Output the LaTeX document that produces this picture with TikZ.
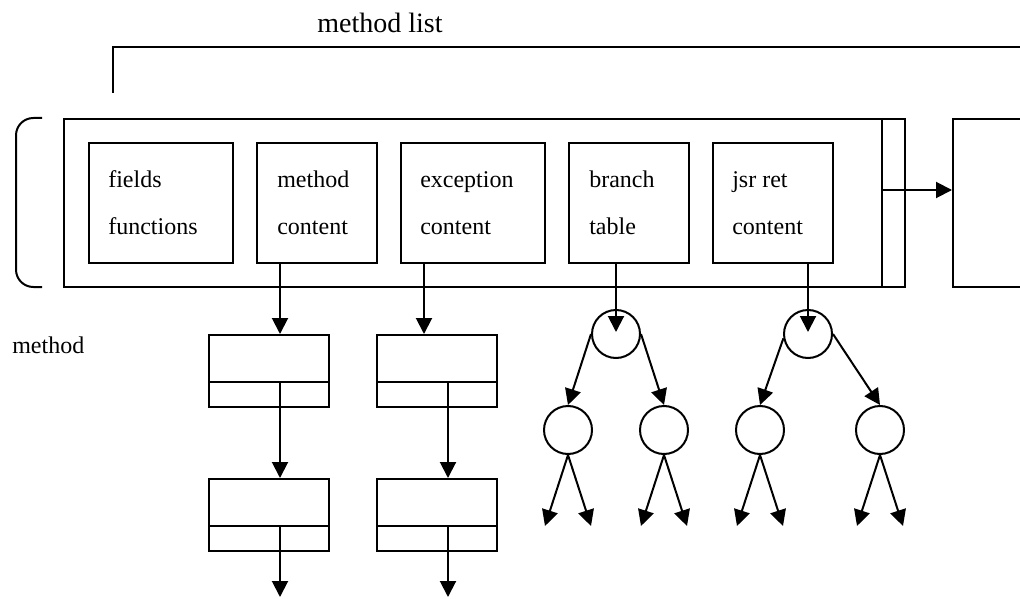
\documentclass[tikz,border=0pt]{standalone}
\usepackage{fontspec}
\setmainfont{Liberation Serif}
\usetikzlibrary{arrows.meta,calc}
\tikzset{
  lw/.style={line width=1.5pt},
  box/.style={draw, lw, rectangle, inner sep=0pt, anchor=north west},
  lbl/.style={anchor=base west, inner sep=0pt, font=\fontsize{18pt}{20pt}\selectfont},
  listbox/.style={box, minimum width=90pt, minimum height=54pt},
  tnode/.style={draw, lw, circle, inner sep=0pt, minimum size=36pt},
  arr/.style={lw, -{Triangle[length=12pt,width=12pt]}},
}
\begin{document}
\begin{tikzpicture}[x=0.75pt, y=-0.75pt]
  \clip (0,0) rectangle (1020,599);
  \useasboundingbox (0,0) rectangle (1020,599);

  % title and its bracket line
  \node[anchor=base, inner sep=0pt, font=\fontsize{21pt}{23pt}\selectfont] (title) at (380,33) {method list};
  \coordinate (mlA) at (113,93);
  \coordinate (mlB) at (113,47);
  \coordinate (mlC) at (1025,47);
  \draw[lw] (mlA) -- (mlB) -- (mlC);

  % left parenthesis
  \coordinate (pA) at (42,118);
  \coordinate (pB) at (16,118);
  \coordinate (pC) at (16,287);
  \coordinate (pD) at (42,287);
  \draw[lw, rounded corners=13pt] (pA) -- (pB) -- (pC) -- (pD);

  % method record
  \node[box, minimum width=630.75pt, minimum height=126pt] (outer) at (63,118) {};
  \draw[lw] ($(outer.north east)+(-24,0)$) coordinate (divT) -- ($(outer.south east)+(-24,0)$) coordinate (divB);
  \node[box, minimum width=90pt, minimum height=126pt] (next) at (952,118) {};
  \coordinate (link) at ($(divT)+(0,72)$);
  \draw[arr] (link) -- (link -| next.west);

  % fields of the record
  \node[box, minimum width=108pt, minimum height=90pt] (ff) at (88,142) {};
  \node[box, minimum width=90pt,  minimum height=90pt] (mc) at (256,142) {};
  \node[box, minimum width=108pt, minimum height=90pt] (ec) at (400,142) {};
  \node[box, minimum width=90pt,  minimum height=90pt] (bt) at (568,142) {};
  \node[box, minimum width=90pt,  minimum height=90pt] (jr) at (712,142) {};

  \node[lbl] (ff1) at (108,187) {fields};
  \node[lbl] (ff2) at (108,234) {functions};
  \node[lbl] (mc1) at (277,187) {method};
  \node[lbl] (mc2) at (277,234) {content};
  \node[lbl] (ec1) at (420,187) {exception};
  \node[lbl] (ec2) at (420,234) {content};
  \node[lbl] (bt1) at (589,187) {branch};
  \node[lbl] (bt2) at (589,234) {table};
  \node[lbl] (jr1) at (732,187) {jsr ret};
  \node[lbl] (jr2) at (732,234) {content};

  \node[lbl] (meth) at (12,353) {method};

  % linked lists below method content and exception content
  \node[listbox] (la) at (208,334) {};
  \node[listbox] (lb) at (208,478) {};
  \node[listbox] (lc) at (376,334) {};
  \node[listbox] (ld) at (376,478) {};
  \foreach \n in {la,lb,lc,ld}{
    \draw[lw] ($(\n.north west)+(0,48)$) -- ($(\n.north east)+(0,48)$);
  }
  \draw[arr] ($(mc.south west)+(24,0)$) -- ($(la.north west)+(72,0)$);
  \draw[arr] ($(la.north west)+(72,48)$) -- ($(lb.north west)+(72,0)$);
  \coordinate (endA) at (280,597);
  \draw[arr] ($(lb.north west)+(72,48)$) -- (endA);
  \draw[arr] ($(ec.south west)+(24,0)$) -- ($(lc.north west)+(48,0)$);
  \draw[arr] ($(lc.north west)+(72,48)$) -- ($(ld.north west)+(72,0)$);
  \coordinate (endB) at (448,597);
  \draw[arr] ($(ld.north west)+(72,48)$) -- (endB);

  % trees below branch table and jsr ret content
  \node[tnode] (r1) at (616,334) {};
  \node[tnode] (c1) at (568,430) {};
  \node[tnode] (c2) at (664,430) {};
  \node[tnode] (r2) at (808,334) {};
  \node[tnode] (c3) at (760,430) {};
  \node[tnode] (c4) at (880,430) {};
  \draw[arr] ($(bt.south west)+(48,0)$) -- ($(r1.center)+(0,-2)$);
  \draw[arr] ($(jr.south west)+(96,0)$) -- ($(r2.center)+(0,-2)$);
  \draw[arr] (r1.west) -- (c1.north);
  \draw[arr] (r1.east) -- (c2.north);
  \draw[arr] (r2.190) -- (c3.north);
  \draw[arr] (r2.east) -- (c4.north);
  \foreach \c in {c1,c2,c3,c4}{
    \draw[arr] (\c.south) -- ($(\c.south)+(-23,71)$);
    \draw[arr] (\c.south) -- ($(\c.south)+(23,71)$);
  }
\end{tikzpicture}
\end{document}
